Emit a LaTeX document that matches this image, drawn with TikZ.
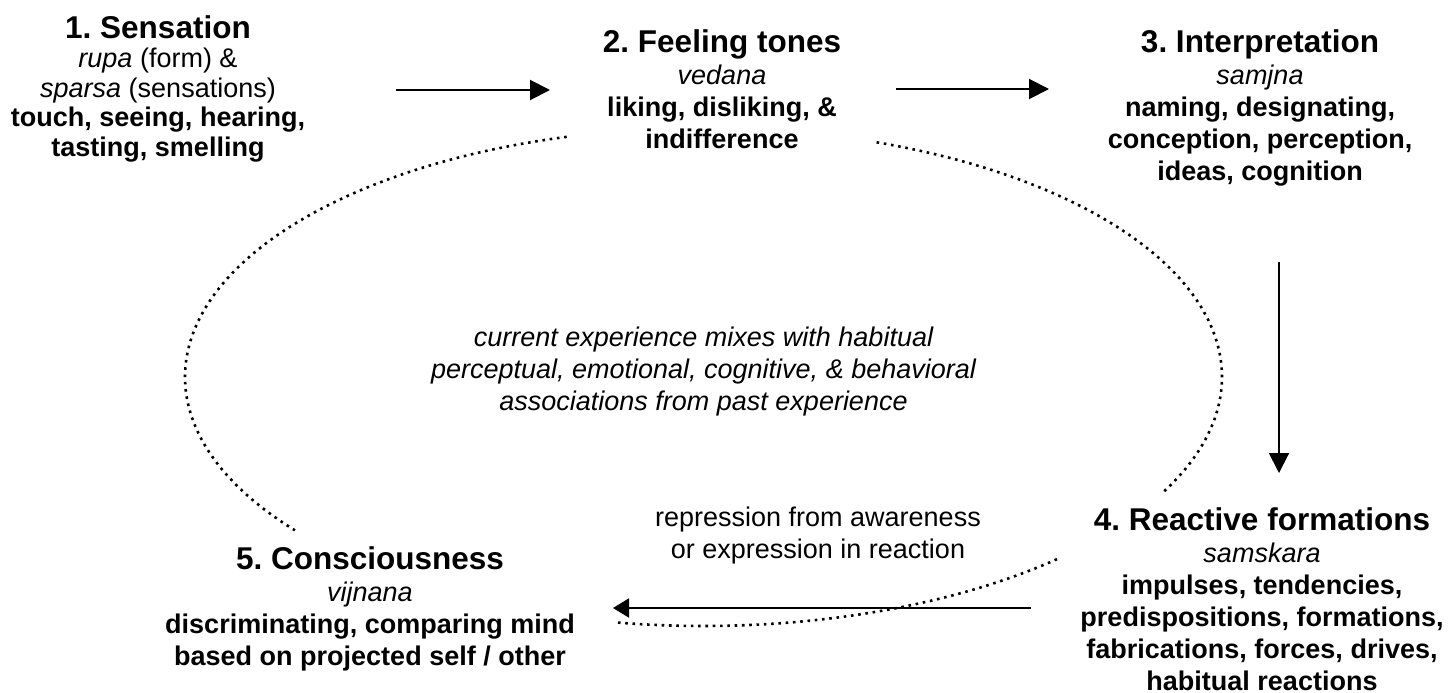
\documentclass[tikz,border=0pt]{standalone}
\usepackage{fontspec}
\setmainfont{Liberation Sans}
\usetikzlibrary{arrows.meta,calc}
\newcommand\stagetitle[1]{{\fontsize{31.5}{32}\selectfont\bfseries #1}}
\frenchspacing
\begin{document}
\frenchspacing
\begin{tikzpicture}[x=1pt,y=-1pt,
  stage/.style={align=center, inner sep=0pt, anchor=base, font=\fontsize{27}{32}\selectfont},
  flow/.style={line width=2pt, -{Triangle[length=20pt,width=20pt]}},
  flowsmall/.style={line width=2pt, -{Triangle[length=16pt,width=19pt]}},
  loopline/.style={line width=2.6pt, dash pattern=on 2.6pt off 4.7pt}]
\useasboundingbox (0,0) rectangle (1456,693);

% stages (anchor base = baseline of the last line)
\node[stage, font=\fontsize{27}{29.5}\selectfont] (n1) at (158,156)
  {\stagetitle{1. Sensation}\\ \textit{rupa} (form) \&\\ \textit{sparsa} (sensations)\\ \textbf{touch, seeing, hearing,}\\ \textbf{tasting, smelling}};
\node[stage] (n2) at (722,148)
  {\stagetitle{2. Feeling tones}\\ \textit{vedana}\\ \textbf{liking, disliking, \&}\\ \textbf{indifference}};
\node[stage] (n3) at (1260,180)
  {\stagetitle{3. Interpretation}\\ \textit{samjna}\\ \textbf{naming, designating,}\\ \textbf{conception, perception,}\\ \textbf{ideas, cognition}};
\node[stage] (n4) at (1262,690)
  {\stagetitle{4. Reactive formations}\\ \textit{samskara}\\ \textbf{impulses, tendencies,}\\ \textbf{predispositions, formations,}\\ \textbf{fabrications, forces, drives,}\\ \textbf{habitual reactions}};
\node[stage] (n5) at (370,665)
  {\stagetitle{5. Consciousness}\\ \textit{vijnana}\\ \textbf{discriminating, comparing mind}\\ \textbf{based on projected self / other}};

% labels
\node[stage, font=\fontsize{27}{32}\selectfont\itshape] (mix) at (703.5,410)
  {current experience mixes with habitual\\ perceptual, emotional, cognitive, \& behavioral\\ associations from past experience};
\node[stage] (rep) at (818,558)
  {repression from awareness\\ or expression in reaction};

% arrow end points
\coordinate (a12s) at (396,90);
\coordinate (a12e) at (550,90);
\coordinate (a23s) at (896,89);
\coordinate (a23e) at (1049,89);
\coordinate (a34s) at (1279,262);
\coordinate (a34e) at (1279,473);
\coordinate (a45s) at (1031,608);
\coordinate (a45e) at (613,608);

\draw[flow] (a12s) -- (a12e);
\draw[flow] (a23s) -- (a23e);
\draw[flow] (a34s) -- (a34e);
\draw[flowsmall] (a45s) -- (a45e);

% dotted cycle
\coordinate (C) at (703.5,377);
\draw[loopline] ($(C)+(105.3:518.5pt and 249pt)$)
  arc[start angle=105.3, end angle=218, x radius=518.5pt, y radius=249pt];
\draw[loopline] ($(C)+(70.5:518.5pt and 249pt)$)
  arc[start angle=70.5, end angle=-27.5, x radius=518.5pt, y radius=249pt];
\draw[loopline] ($(C)+(260.5:518.5pt and 249pt)$)
  arc[start angle=260.5, end angle=313.4, x radius=518.5pt, y radius=249pt];
\end{tikzpicture}
\end{document}
